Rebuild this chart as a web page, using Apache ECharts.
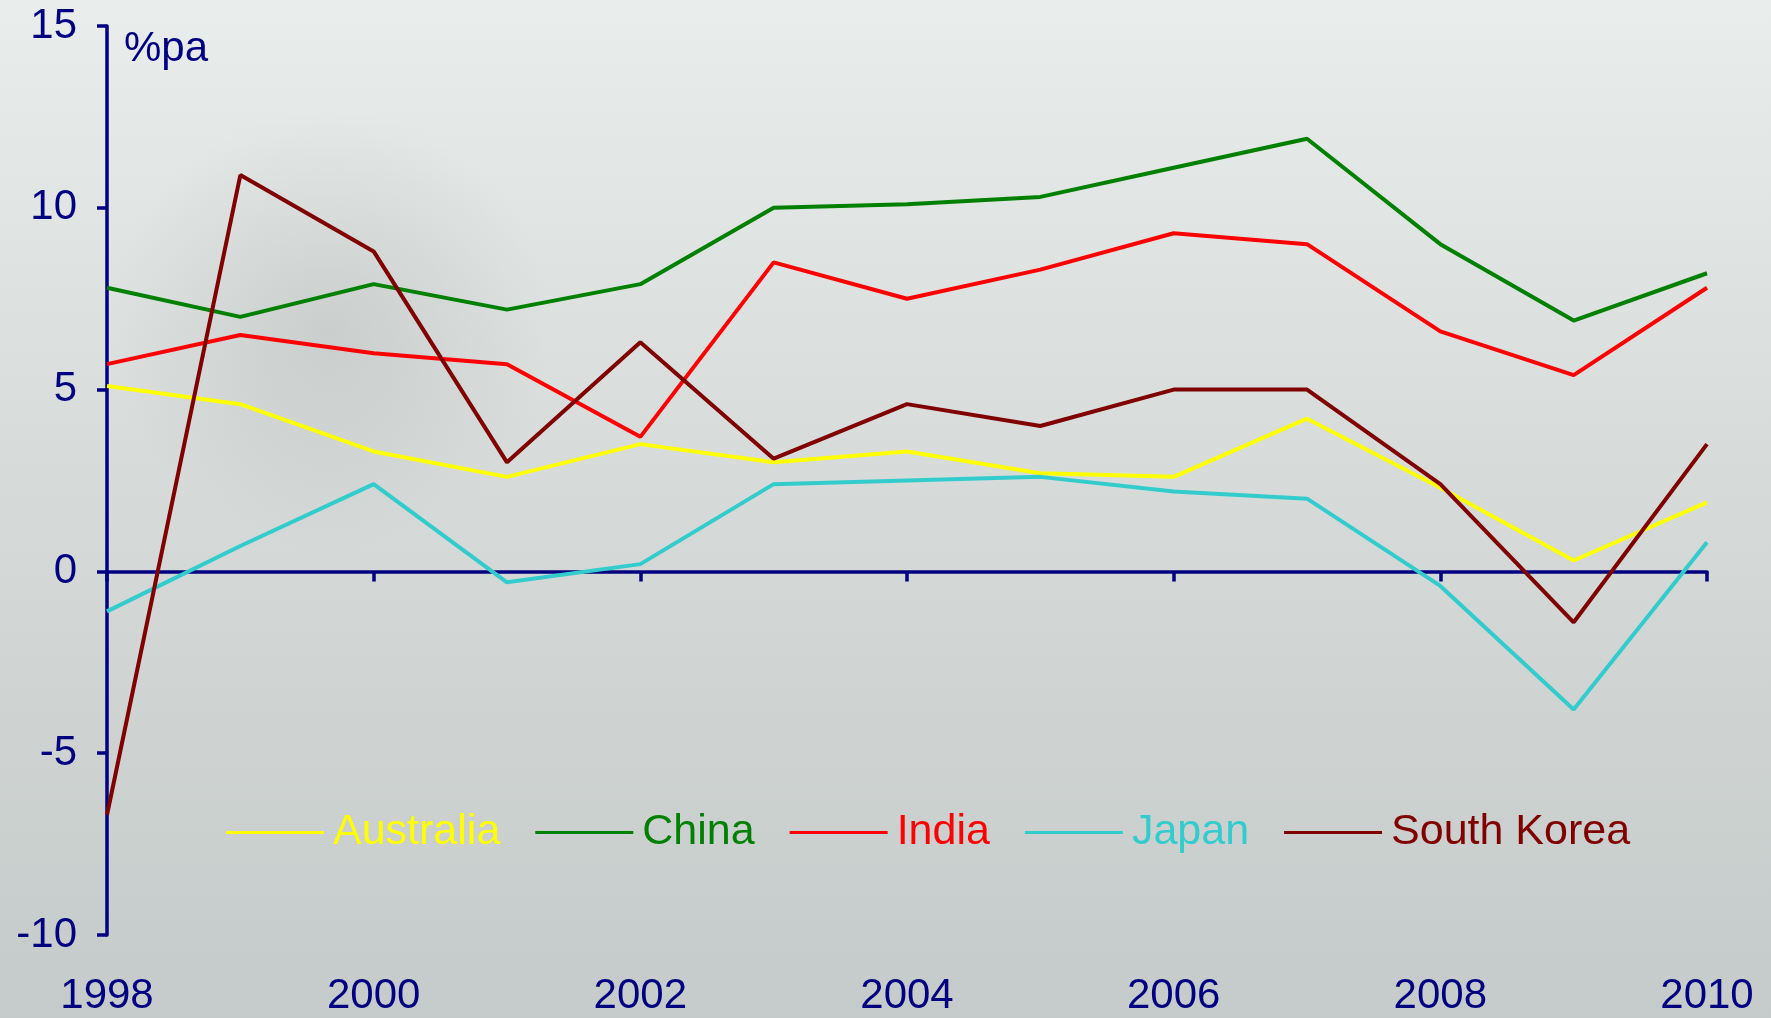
<!DOCTYPE html>
<html>
<head>
<meta charset="utf-8">
<script src="https://cdn.jsdelivr.net/npm/echarts@6/dist/echarts.min.js"></script>
<style>
html,body{margin:0;padding:0;}
#c{width:1771px;height:1018px;}
</style>
</head>
<body>
<div id="c"></div>
<script>
const years = ['1998','1999','2000','2001','2002','2003','2004','2005','2006','2007','2008','2009','2010'];
const australia = [5.1, 4.6, 3.3, 2.6, 3.5, 3.0, 3.3, 2.7, 2.6, 4.2, 2.3, 0.3, 1.9];
const china     = [7.8, 7.0, 7.9, 7.2, 7.9, 10.0, 10.1, 10.3, 11.1, 11.9, 9.0, 6.9, 8.2];
const india     = [5.7, 6.5, 6.0, 5.7, 3.7, 8.5, 7.5, 8.3, 9.3, 9.0, 6.6, 5.4, 7.8];
const japan     = [-1.1, 0.7, 2.4, -0.3, 0.2, 2.4, 2.5, 2.6, 2.2, 2.0, -0.4, -3.8, 0.8];
const korea     = [-6.7, 10.9, 8.8, 3.0, 6.3, 3.1, 4.6, 4.0, 5.0, 5.0, 2.4, -1.4, 3.5];
const seriesNames = ['Australia','China','India','Japan','South Korea'];
const seriesColors = ['#FFFF00','#008000','#FF0000','#33CCCC','#800000'];
const seriesData = [australia, china, india, japan, korea];
const yMin = -10, yMax = 15, yStep = 5;
const unitLabel = '%pa';

const navy = '#000080';
const font = 'Liberation Sans, Arial, sans-serif';

const chart = echarts.init(document.getElementById('c'));
chart.setOption({
  backgroundColor: {
    type: 'linear', x: 0, y: 0, x2: 0, y2: 1,
    colorStops: [
      {offset: 0, color: '#e9edeb'},
      {offset: 0.45, color: '#d7dbda'},
      {offset: 1, color: '#c5cbca'}
    ]
  },
  graphic: [
    {
      type: 'ellipse', silent: true, z: -10,
      shape: {cx: 330, cy: 330, rx: 420, ry: 220},
      style: {
        fill: {
          type: 'radial', x: 0.5, y: 0.5, r: 0.5,
          colorStops: [
            {offset: 0, color: 'rgba(160,165,165,0.3)'},
            {offset: 1, color: 'rgba(160,165,165,0)'}
          ]
        }
      }
    },
    {
      type: 'text', left: 124, top: 28, z: 10,
      style: {text: unitLabel, fill: navy, font: '42px ' + font}
    }
  ],
  animation: false,
  grid: {left: 107, right: 64, top: 26, bottom: 83, containLabel: false},
  legend: {
    left: 221, top: 806,
    itemWidth: 98, itemHeight: 3, itemGap: 35,
    icon: 'rect',
    textStyle: {fontSize: 43, fontFamily: font, padding: [0, 0, 0, 4]},
    data: seriesNames.map((n, i) => ({name: n, textStyle: {color: seriesColors[i]}}))
  },
  xAxis: [
    {
      type: 'category', data: years, boundaryGap: false, position: 'bottom',
      axisLine: {onZero: true, lineStyle: {color: navy, width: 3.5}},
      axisTick: {show: true, interval: 1, length: 10, lineStyle: {color: navy, width: 3.5}},
      axisLabel: {show: false},
      splitLine: {show: false}
    },
    {
      type: 'category', data: years, boundaryGap: false, position: 'bottom',
      axisLine: {show: false, onZero: false},
      axisTick: {show: false},
      axisLabel: {show: true, interval: 1, color: navy, fontSize: 42, fontFamily: font, margin: 40},
      splitLine: {show: false}
    }
  ],
  yAxis: {
    type: 'value', min: yMin, max: yMax, interval: yStep,
    axisLine: {show: true, lineStyle: {color: navy, width: 3.5}},
    axisTick: {show: true, length: 10, lineStyle: {color: navy, width: 3.5}},
    axisLabel: {color: navy, fontSize: 42, fontFamily: font, margin: 30},
    splitLine: {show: false}
  },
  series: seriesNames.map((n, i) => ({
    name: n, type: 'line', xAxisIndex: 0, data: seriesData[i],
    symbol: 'none', color: seriesColors[i],
    lineStyle: {width: 4, color: seriesColors[i]}
  }))
});
</script>
</body>
</html>
